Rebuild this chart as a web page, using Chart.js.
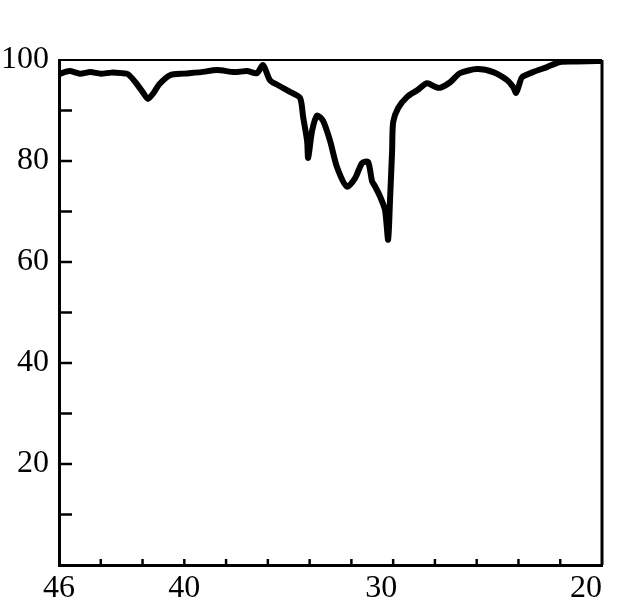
<!DOCTYPE html>
<html>
<head>
<meta charset="utf-8">
<script src="https://cdn.jsdelivr.net/npm/chart.js@4"></script>
<style>
  html, body { margin: 0; padding: 0; background: #fff; }
  #wrap { width: 619px; height: 611px; }
</style>
</head>
<body>
<div id="wrap"><canvas id="chart" width="619" height="611"></canvas></div>
<script>
const angles = [46, 45.5, 45, 44.5, 44, 43.5, 43, 42.7, 42.3, 41.95, 41.74, 41.45, 41.2, 40.68, 40, 39.2, 38.43,
  37.6, 37, 36.52, 36.23, 35.9, 35.51, 34.94, 34.46, 34.31, 34.12, 34.07, 33.88, 33.64, 33.36, 33.02, 32.69,
  32.21, 31.82, 31.49, 31.2, 31.01, 30.87, 30.63, 30.39, 30.24, 30.15, 30.05, 30.0, 29.76, 29.33, 28.85, 28.38,
  27.99, 27.75, 27.27, 26.8, 25.98, 25.21, 24.54, 24.25, 24.11, 23.95, 23.83, 23.3, 22.63, 22.01, 21.2, 20.23, 20];
const transmission = [97.2, 97.8, 97.3, 97.6, 97.3, 97.5, 97.4, 97.2, 95.4, 93.4, 92.3, 93.6, 95.2, 97.0, 97.3, 97.6, 98.0,
  97.6, 97.8, 97.4, 99.0, 96.0, 95.0, 93.7, 92.5, 88.7, 84, 80.6, 86, 89, 88, 84, 78.8,
  74.9, 76.6, 79.6, 79.8, 76, 75, 73, 70.3, 64.4, 72.3, 82, 87.7, 90.5, 92.7, 94, 95.4,
  94.7, 94.5, 95.6, 97.4, 98.2, 97.6, 96, 94.6, 93.5, 95.3, 96.6, 97.6, 98.6, 99.6, 99.7, 99.8, 99.8];
const xTicks = [46, 40, 30, 20];
const yTicks = [100, 80, 60, 40, 20];

const points = angles.map((a, i) => ({ x: a, y: transmission[i] }));
const serif = { family: 'Times New Roman, Tinos, Liberation Serif, serif', size: 32 };

// in the scan the 30 and 20 labels sit a bit left of their ticks
const xLabel = v => v === 30 ? v + '   ' : v === 20 ? v + '    ' : String(v);

// frame on top/right plus the small inward tick marks
const framePlugin = {
  id: 'frame',
  afterDraw(chart) {
    const ctx = chart.ctx;
    const a = chart.chartArea;
    const xs = chart.scales.x, ys = chart.scales.y;
    ctx.save();
    ctx.strokeStyle = '#000';
    ctx.lineWidth = 2;
    ctx.beginPath();
    ctx.moveTo(a.left, a.top);
    ctx.lineTo(a.right, a.top);
    ctx.stroke();
    ctx.lineWidth = 3;
    ctx.beginPath();
    ctx.moveTo(a.right, a.top);
    ctx.lineTo(a.right, a.bottom);
    ctx.stroke();
    ctx.lineWidth = 2.5;
    for (let v = 10; v < 100; v += 10) {
      const py = ys.getPixelForValue(v);
      ctx.beginPath();
      ctx.moveTo(a.left, py);
      ctx.lineTo(a.left + 13, py);
      ctx.stroke();
    }
    for (let v = 22; v < 46; v += 2) {
      const px = xs.getPixelForValue(v);
      ctx.beginPath();
      ctx.moveTo(px, a.bottom);
      ctx.lineTo(px, a.bottom - 6);
      ctx.stroke();
    }
    ctx.restore();
  }
};

new Chart(document.getElementById('chart'), {
  type: 'line',
  data: {
    datasets: [{
      data: points,
      borderColor: '#000',
      borderWidth: 6,
      pointRadius: 0,
      tension: 0.25,
      fill: false
    }]
  },
  options: {
    responsive: false,
    animation: false,
    layout: { padding: { top: 60, right: 17, left: 0, bottom: 0 } },
    plugins: { legend: { display: false }, tooltip: { enabled: false } },
    scales: {
      x: {
        type: 'linear',
        reverse: true,
        min: 20,
        max: 46,
        afterBuildTicks: s => { s.ticks = xTicks.map(v => ({ value: v })); },
        afterFit: s => { s.height = 46; s.paddingLeft = 0; s.paddingRight = 0; },
        grid: { display: false, drawTicks: false },
        border: { display: true, color: '#000', width: 3 },
        ticks: { color: '#000', font: serif, padding: 4, maxRotation: 0, autoSkip: false, callback: xLabel }
      },
      y: {
        min: 0,
        max: 100,
        afterBuildTicks: s => { s.ticks = yTicks.map(v => ({ value: v })); },
        afterFit: s => { s.width = 59; s.paddingTop = 0; s.paddingBottom = 0; },
        grid: { display: false, drawTicks: false },
        border: { display: true, color: '#000', width: 3 },
        ticks: { color: '#000', font: serif, padding: 10 }
      }
    }
  },
  plugins: [framePlugin]
});
</script>
</body>
</html>
